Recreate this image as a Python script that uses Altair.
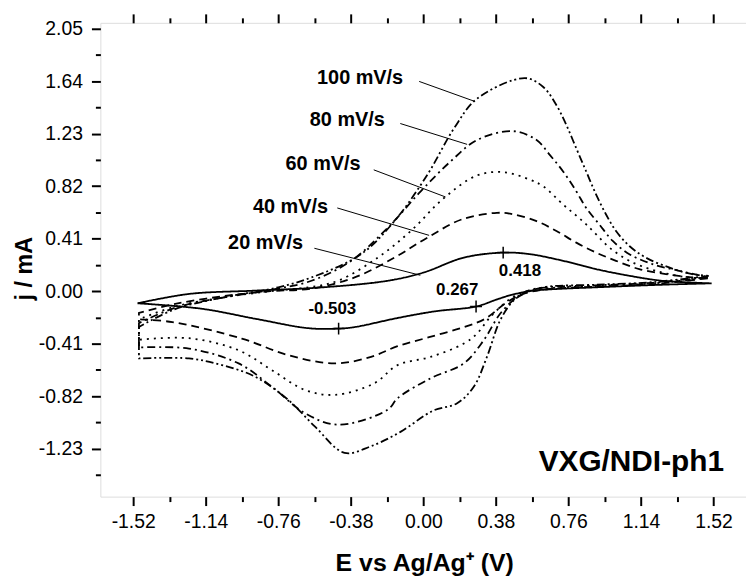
import altair as alt
import pandas as pd

FONT = "Liberation Sans"

RATES = ["20 mV/s", "40 mV/s", "60 mV/s", "80 mV/s", "100 mV/s"]
DASHES = [[1, 0], [8, 5], [2, 5], [8, 4, 2, 4], [8, 3, 2, 3, 2, 3]]

# each loop: cathodic branch from +1.5 V down to -1.5 V, then anodic branch back
E_20 = [1.51, 1.25, 0.905, 0.645, 0.558, 0.46, 0.385, 0.276, 0.06, -0.135, -0.36, -0.444, -0.60, -0.88, -1.16, -1.497, -1.497,
        -1.228, -0.881, -0.534, -0.187, 0.0, 0.212, 0.418, 0.558, 0.732, 0.905, 1.079, 1.252, 1.51]
J_20 = [0.061, 0.05, 0.03, 0.012, 0.0, -0.03, -0.065, -0.12, -0.158, -0.21, -0.281, -0.293, -0.29, -0.216, -0.138, -0.095, -0.095,
        -0.022, 0.004, 0.029, 0.081, 0.145, 0.262, 0.301, 0.289, 0.237, 0.172, 0.12, 0.081, 0.061]

E_40 = [1.49, 1.2, 0.9, 0.65, 0.524, 0.437, 0.324, 0.212, 0.03, -0.135, -0.274, -0.465, -0.708, -0.951, -1.315, -1.49, -1.49,
        -1.49, -1.49, -1.30, -1.05, -0.80, -0.586, -0.36, -0.152, 0.021, 0.20, 0.385, 0.472, 0.593, 0.697, 0.801, 0.905,
        1.009, 1.131, 1.27, 1.408, 1.49]
J_40 = [0.10, 0.055, 0.035, 0.015, -0.022, -0.087, -0.216, -0.281, -0.36, -0.43, -0.514, -0.565, -0.50, -0.371, -0.242, -0.22, -0.22,
        -0.17, -0.17, -0.10, -0.04, 0.0, 0.02, 0.107, 0.262, 0.418, 0.56, 0.612, 0.60, 0.547, 0.47, 0.379, 0.301,
        0.237, 0.172, 0.133, 0.107, 0.10]

E_60 = [1.49, 1.2, 0.9, 0.65, 0.52, 0.454, 0.35, 0.281, 0.212, 0.038, -0.135, -0.257, -0.465, -0.621, -0.794, -0.968, -1.228, -1.49, -1.49,
        -1.49, -1.49, -1.30, -1.05, -0.80, -0.60, -0.447, -0.239, -0.066, 0.108, 0.281, 0.42, 0.558, 0.628, 0.732, 0.801, 0.853,
        0.905, 0.975, 1.079, 1.217, 1.391, 1.49]
J_60 = [0.105, 0.06, 0.04, 0.022, -0.01, -0.061, -0.203, -0.332, -0.41, -0.514, -0.578, -0.72, -0.811, -0.772, -0.617, -0.462, -0.368, -0.38, -0.38,
        -0.22, -0.22, -0.12, -0.05, 0.0, 0.03, 0.081, 0.262, 0.47, 0.728, 0.904, 0.93, 0.871, 0.819, 0.677, 0.59, 0.521,
        0.444, 0.34, 0.237, 0.159, 0.107, 0.105]

E_80 = [1.49, 1.2, 0.9, 0.65, 0.55, 0.489, 0.402, 0.316, 0.212, 0.038, -0.135, -0.187, -0.447, -0.621, -0.794, -0.968, -1.228, -1.49, -1.49,
        -1.49, -1.49, -1.30, -1.05, -0.80, -0.586, -0.378, -0.187, -0.014, 0.142, 0.281, 0.47, 0.593, 0.662, 0.732, 0.801, 0.853,
        0.922, 0.992, 1.079, 1.2, 1.339, 1.49]
J_80 = [0.11, 0.065, 0.045, 0.03, 0.005, -0.048, -0.177, -0.384, -0.565, -0.681, -0.837, -0.927, -1.044, -0.953, -0.747, -0.565, -0.449, -0.44, -0.44,
        -0.25, -0.25, -0.13, -0.05, 0.01, 0.081, 0.237, 0.495, 0.78, 1.013, 1.181, 1.25, 1.181, 1.065, 0.935, 0.78, 0.65,
        0.521, 0.392, 0.289, 0.211, 0.159, 0.11]

E_100 = [1.495, 1.2, 0.9, 0.65, 0.58, 0.541, 0.472, 0.402, 0.333, 0.264, 0.177, 0.05, -0.12, -0.274, -0.413, -0.569, -0.708, -0.881, -1.055, -1.228, -1.49, -1.49,
         -1.49, -1.49, -1.30, -1.05, -0.76, -0.586, -0.326, -0.152, 0.021, 0.16, 0.281, 0.532, 0.628, 0.697, 0.749, 0.801, 0.853,
         0.905, 0.957, 1.009, 1.079, 1.165, 1.287, 1.408, 1.495]
J_100 = [0.12, 0.07, 0.05, 0.035, 0.012, -0.009, -0.074, -0.229, -0.514, -0.747, -0.876, -0.935, -1.10, -1.212, -1.264, -1.057, -0.85, -0.669, -0.578, -0.526, -0.526, -0.526,
         -0.28, -0.28, -0.14, -0.05, 0.03, 0.107, 0.289, 0.547, 0.91, 1.271, 1.504, 1.665, 1.595, 1.453, 1.298, 1.116, 0.935,
         0.754, 0.599, 0.47, 0.353, 0.262, 0.185, 0.133, 0.12]

# scan-rate labels and their leader lines
LABEL_E = [-1.023, -0.893, -0.722, -0.595, -0.557]
LABEL_J = [0.328, 0.612, 0.948, 1.292, 1.621]
LEAD_E1 = [-0.571, -0.451, -0.260, -0.121, -0.022]
LEAD_J1 = [0.335, 0.650, 0.948, 1.310, 1.639]
LEAD_E2 = [-0.016, 0.030, 0.116, 0.229, 0.267]
LEAD_J2 = [0.124, 0.436, 0.736, 1.147, 1.484]

# peak markers
PEAK_TEXT = ["0.418", "0.267", "-0.503"]
PEAK_E = [0.418, 0.276, -0.444]
PEAK_J = [0.301, -0.12, -0.293]
PEAK_LABEL_E = [0.506, 0.177, -0.477]
PEAK_LABEL_J = [0.12, -0.03, -0.177]

SAMPLE = "VXG/NDI-ph1"
SAMPLE_E = [0.604]
SAMPLE_J = [-1.406]

X_DOMAIN = [-1.692, 1.69]
Y_DOMAIN = [-1.606, 2.097]
X_MAJOR = [-1.52, -1.14, -0.76, -0.38, 0.0, 0.38, 0.76, 1.14, 1.52]
X_MINOR = [-1.33, -0.95, -0.57, -0.19, 0.19, 0.57, 0.95, 1.33]
Y_MAJOR = [-1.23, -0.82, -0.41, 0.0, 0.41, 0.82, 1.23, 1.64, 2.05]
Y_MINOR = [-1.435, -1.025, -0.615, -0.205, 0.205, 0.615, 1.025, 1.435, 1.845]

rows = []
for rate, es, js in zip(RATES, [E_20, E_40, E_60, E_80, E_100], [J_20, J_40, J_60, J_80, J_100]):
    for k, (e, j) in enumerate(zip(es, js)):
        rows.append({"rate": rate, "E": e, "j": j, "k": k})
curves_df = pd.DataFrame(rows)

labels_df = pd.DataFrame({"text": RATES, "E": LABEL_E, "j": LABEL_J,
                          "E1": LEAD_E1, "J1": LEAD_J1, "E2": LEAD_E2, "J2": LEAD_J2})
peaks_df = pd.DataFrame({"text": PEAK_TEXT, "E": PEAK_E, "j": PEAK_J,
                         "LE": PEAK_LABEL_E, "LJ": PEAK_LABEL_J})
sample_df = pd.DataFrame({"text": [SAMPLE], "E": SAMPLE_E, "j": SAMPLE_J})

xs = alt.Scale(domain=X_DOMAIN, nice=False, zero=False)
ys = alt.Scale(domain=Y_DOMAIN, nice=False, zero=False)

MINUS = "\u2212"
x_test = "abs(datum.value/0.38 - round(datum.value/0.38)) < 0.01"
y_test = "abs(datum.value/0.41 - round(datum.value/0.41)) < 0.01"

common = dict(domain=False, grid=False, tickColor="black", tickWidth=2,
              labelFont=FONT, labelFontSize=19.5, labelColor="black",
              labelOverlap=False, labelFlush=False,
              titleFont=FONT, titleFontWeight="bold", titleColor="black")

x_axis = alt.Axis(values=X_MAJOR + X_MINOR, orient="bottom", title="E vs Ag/Ag\u207a (V)",
                  tickSize={"condition": {"test": x_test, "value": 9}, "value": 5},
                  labelExpr=f"{x_test} ? replace(format(datum.value, '.2f'), '{MINUS}', '-') : ''",
                  labelPadding=7, titleFontSize=25, titleX=326, titleY=74,
                  titleBaseline="alphabetic", titleAlign="center", **common)
y_axis = alt.Axis(values=Y_MAJOR + Y_MINOR, orient="left", title="j / mA",
                  tickSize={"condition": {"test": y_test, "value": 9}, "value": 5},
                  labelExpr=f"{y_test} ? replace(format(datum.value, '.2f'), '{MINUS}', '-') : ''",
                  labelPadding=9, titleFontSize=23.5, titleX=-69, titleY=247, titleAngle=270,
                  titleBaseline="alphabetic", titleAlign="center", **common)
x_top = alt.Axis(values=X_MAJOR + X_MINOR, orient="top", title=None, labels=False,
                 tickSize={"condition": {"test": x_test, "value": 9}, "value": 5},
                 domain=False, grid=False, tickColor="black", tickWidth=2)

curves = alt.Chart(curves_df).mark_line(strokeWidth=1.8, color="black", interpolate="catmull-rom").encode(
    x=alt.X("E:Q", scale=xs, axis=x_axis),
    y=alt.Y("j:Q", scale=ys, axis=y_axis),
    strokeDash=alt.StrokeDash("rate:N", scale=alt.Scale(domain=RATES, range=DASHES), legend=None),
    order="k:Q",
)

leaders = alt.Chart(labels_df).mark_rule(color="black", strokeWidth=1).encode(
    x=alt.X("E1:Q", scale=xs, axis=x_top),
    x2="E2:Q",
    y=alt.Y("J1:Q", scale=ys, axis=None),
    y2="J2:Q",
)

rate_text = alt.Chart(labels_df).mark_text(font=FONT, fontSize=20, fontWeight="bold", align="left",
                                           baseline="alphabetic", color="black").encode(
    x=alt.X("E:Q", scale=xs, axis=None),
    y=alt.Y("j:Q", scale=ys, axis=None),
    text="text:N",
)

crosses = alt.Chart(peaks_df).mark_point(shape="M-1,0L1,0M0,-1L0,1", size=144, filled=False,
                                         color="black", strokeWidth=1.5, opacity=1).encode(
    x=alt.X("E:Q", scale=xs, axis=None),
    y=alt.Y("j:Q", scale=ys, axis=None),
)

peak_text = alt.Chart(peaks_df).mark_text(font=FONT, fontSize=17, fontWeight="bold", align="center",
                                          baseline="alphabetic", color="black").encode(
    x=alt.X("LE:Q", scale=xs, axis=None),
    y=alt.Y("LJ:Q", scale=ys, axis=None),
    text="text:N",
)

sample_text = alt.Chart(sample_df).mark_text(font=FONT, fontSize=30, fontWeight="bold", align="left",
                                             baseline="alphabetic", color="black").encode(
    x=alt.X("E:Q", scale=xs, axis=None),
    y=alt.Y("j:Q", scale=ys, axis=None),
    text="text:N",
)

chart = alt.layer(curves, leaders, rate_text, crosses, peak_text, sample_text).resolve_axis(
    x="independent", y="independent"
).properties(
    width=650, height=477, autosize="none",
    padding={"left": 93, "top": 13, "right": 0, "bottom": 78},
).configure_view(stroke="black", strokeWidth=2).configure(background="white")

chart.save("out.html", embed_options={"renderer": "svg", "actions": False})
